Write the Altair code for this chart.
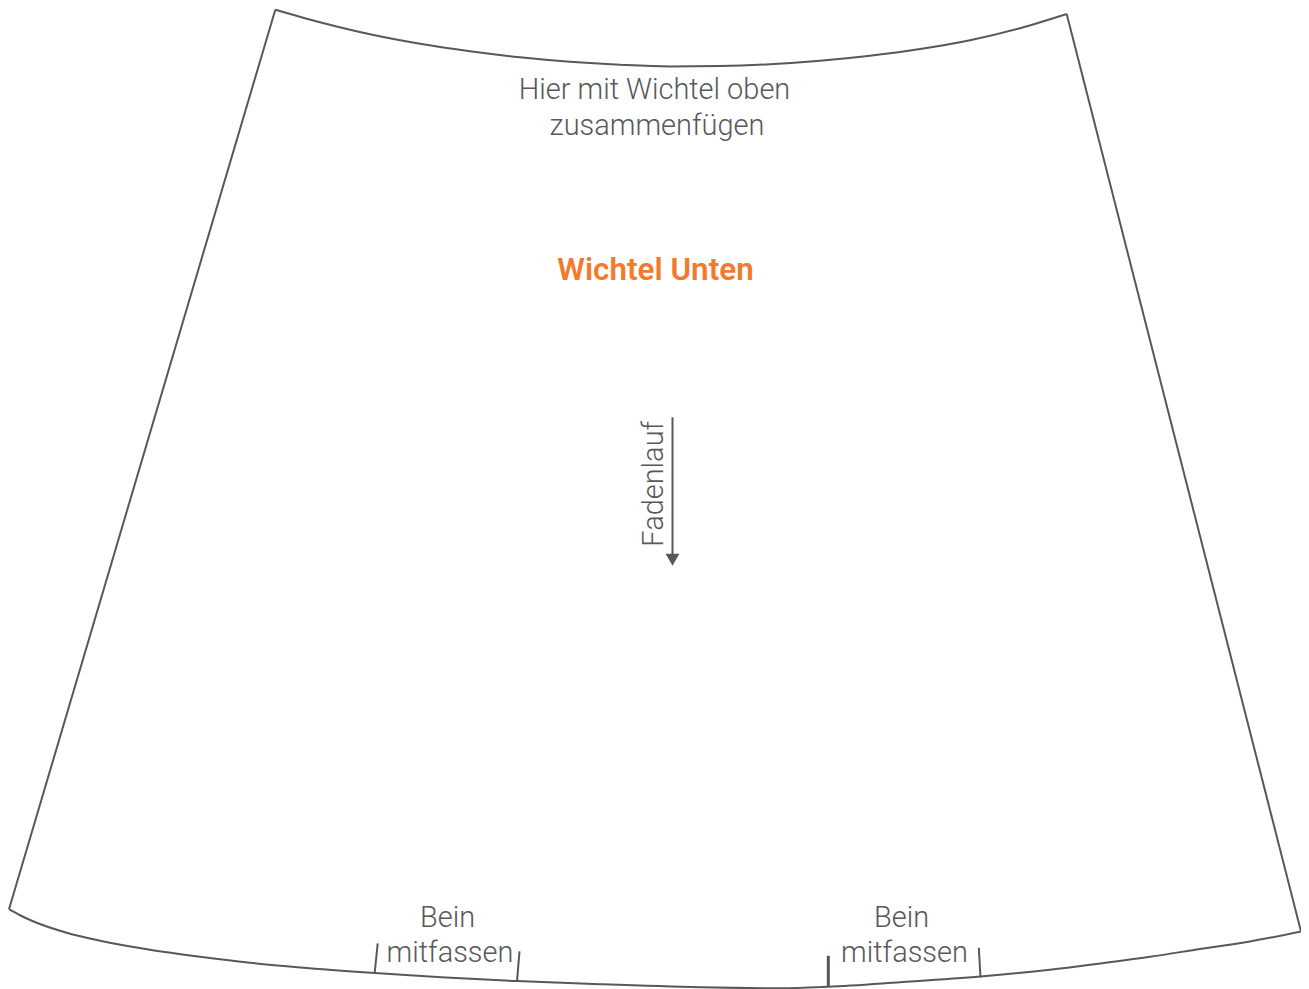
import altair as alt
import pandas as pd

FONT = "Roboto"
GREY = "#58585a"
ORANGE = "#f47a2b"
X_DOMAIN = [8, 1301]
Y_DOMAIN = [8, 987.5]
WIDTH = 1295
HEIGHT = 981

top_x = [275.3, 320, 370, 420, 470, 520, 570, 620, 670, 720, 770, 820, 870, 920, 970, 1020, 1066.7]
top_y = [9, 21.5, 33.5, 43, 50.5, 56.5, 61, 64, 65.7, 65.3, 63.5, 60, 55, 48.3, 39.5, 27.5, 13.3]
bottom_x = [9, 20, 33, 66.7, 100, 150, 200, 250, 300, 375, 517, 600, 700, 780, 828, 900, 980.5, 1050, 1100, 1150, 1200, 1250, 1301]
bottom_y = [908.5, 914.5, 920.5, 932, 940, 949, 956, 962, 966.7, 972.3, 980.3, 983.5, 986.5, 987.5, 986, 981.5, 975.8, 969, 962.7, 956, 948.3, 940.7, 930.7]
side_x1 = [275.3, 1066.7]
side_y1 = [9, 13.3]
side_x2 = [9, 1301]
side_y2 = [908.5, 930.7]
tick_x1 = [374.7, 517, 980.5]
tick_y1 = [972, 980.3, 976.7]
tick_x2 = [377.7, 519.5, 978.8]
tick_y2 = [942.7, 950.7, 947]
thick_x = [828.3]
thick_y1 = [985.7]
thick_y2 = [955]
arrow_x = [672.5]
arrow_y1 = [416.5]
arrow_y2 = [556]
head_y = [559]
note_text = ["Hier mit Wichtel oben", "zusammenfügen", "Bein", "mitfassen", "Bein", "mitfassen"]
note_x = [654.5, 657, 447.5, 450, 901.5, 904.5]
note_y = [98.5, 134.5, 926, 961.5, 926, 961.5]
title_text = ["Wichtel Unten"]
title_x = [655.5]
title_y = [279]
grain_text = ["Fadenlauf"]
grain_x = [663]
grain_y = [483]

x = alt.X("x:Q", scale=alt.Scale(domain=X_DOMAIN, nice=False, zero=False), axis=None)
y = alt.Y("y:Q", scale=alt.Scale(domain=Y_DOMAIN[::-1], nice=False, zero=False), axis=None)
x2 = alt.X2("x2:Q")
y2 = alt.Y2("y2:Q")

curve = alt.Chart(pd.DataFrame({"x": top_x, "y": top_y})).mark_line(
    color=GREY, strokeWidth=2, interpolate="monotone", clip=False).encode(x=x, y=y)
curve2 = alt.Chart(pd.DataFrame({"x": bottom_x, "y": bottom_y})).mark_line(
    color=GREY, strokeWidth=2, interpolate="monotone", clip=False).encode(x=x, y=y)

sides = alt.Chart(pd.DataFrame({"x": side_x1, "y": side_y1, "x2": side_x2, "y2": side_y2})).mark_rule(
    color=GREY, strokeWidth=2).encode(x=x, y=y, x2=x2, y2=y2)
ticks = alt.Chart(pd.DataFrame({"x": tick_x1, "y": tick_y1, "x2": tick_x2, "y2": tick_y2})).mark_rule(
    color=GREY, strokeWidth=2).encode(x=x, y=y, x2=x2, y2=y2)
thick = alt.Chart(pd.DataFrame({"x": thick_x, "y": thick_y1, "y2": thick_y2})).mark_rule(
    color=GREY, strokeWidth=3).encode(x=x, y=y, y2=y2)
arrow = alt.Chart(pd.DataFrame({"x": arrow_x, "y": arrow_y1, "y2": arrow_y2})).mark_rule(
    color=GREY, strokeWidth=2).encode(x=x, y=y, y2=y2)
head = alt.Chart(pd.DataFrame({"x": arrow_x, "y": head_y})).mark_point(
    shape="triangle-down", filled=True, color=GREY, opacity=1, size=190).encode(x=x, y=y)

notes = alt.Chart(pd.DataFrame({"x": note_x, "y": note_y, "t": note_text})).mark_text(
    font=FONT, fontSize=29, fontWeight=300, color=GREY, align="center", baseline="alphabetic"
).encode(x=x, y=y, text="t:N")
title = alt.Chart(pd.DataFrame({"x": title_x, "y": title_y, "t": title_text})).mark_text(
    font=FONT, fontSize=31.5, fontWeight=600, color=ORANGE, align="center", baseline="alphabetic"
).encode(x=x, y=y, text="t:N")
grain = alt.Chart(pd.DataFrame({"x": grain_x, "y": grain_y, "t": grain_text})).mark_text(
    font=FONT, fontSize=29, fontWeight=300, color=GREY, align="center", baseline="alphabetic", angle=270
).encode(x=x, y=y, text="t:N")

chart = alt.layer(curve, curve2, sides, ticks, thick, arrow, head, notes, title, grain).properties(
    width=WIDTH,
    height=HEIGHT,
    padding=0,
    autosize=alt.AutoSizeParams(type="none"),
    background="white",
).configure_view(stroke=None)

chart.save("out.html", embed_options={"renderer": "svg", "actions": False})
